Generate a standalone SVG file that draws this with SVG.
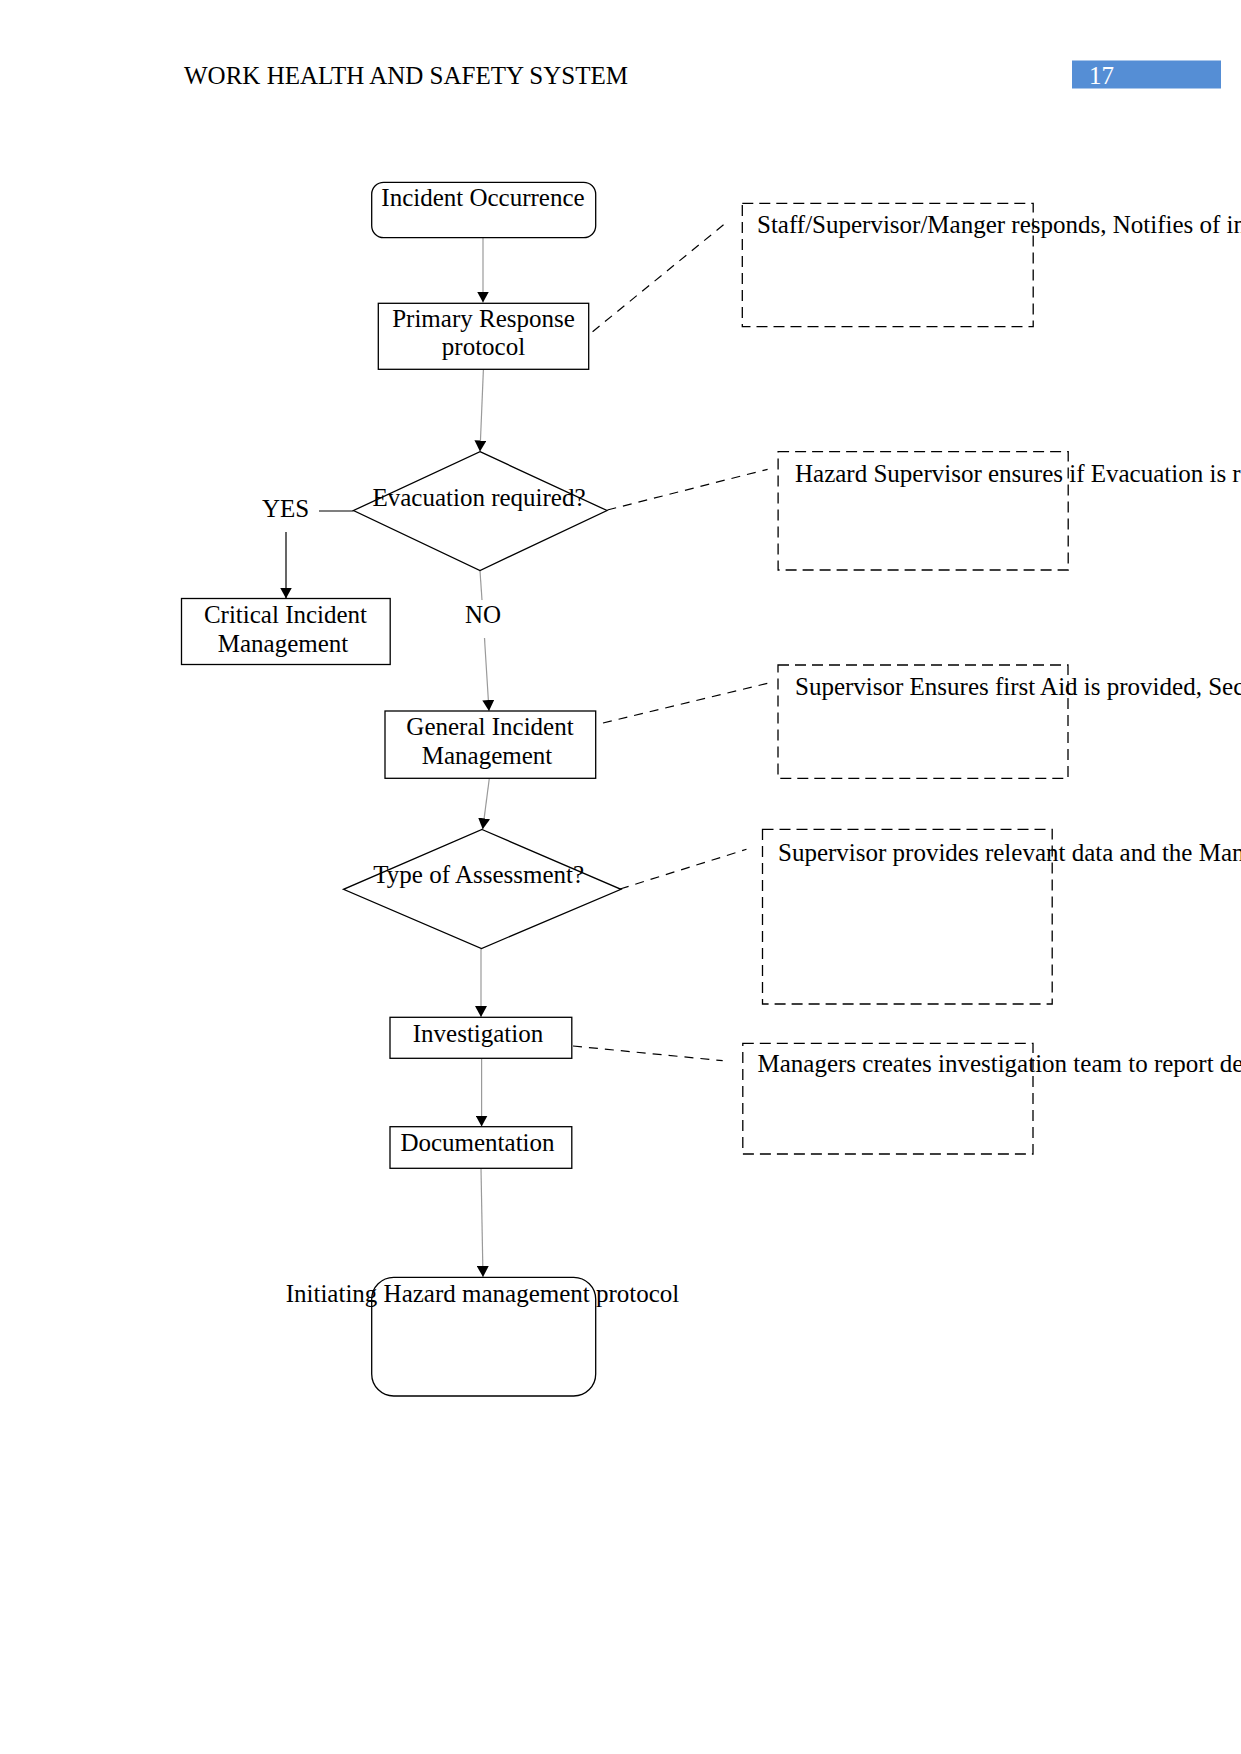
<svg xmlns="http://www.w3.org/2000/svg" width="1241" height="1754" viewBox="0 0 1241 1754">
<style>
text{font-family:"Liberation Serif","Times New Roman",serif;font-size:25px;fill:#000}
.c{text-anchor:middle}
.box{fill:#fff;stroke:#000;stroke-width:1.3}
.dbox{fill:none;stroke:#000;stroke-width:1.3;stroke-dasharray:11 6}
.flow{stroke:#9a9a9a;stroke-width:1.2;fill:none}
.solid{stroke:#000;stroke-width:1.2;fill:none}
.dash{stroke:#000;stroke-width:1.2;fill:none;stroke-dasharray:9 7}
</style>
<defs>
<marker id="ah" markerUnits="userSpaceOnUse" markerWidth="12" markerHeight="12" refX="11" refY="6" orient="auto" viewBox="0 0 12 12">
<path d="M0,0 L11,6 L0,12 z" fill="#000"/>
</marker>
</defs>
<rect width="1241" height="1754" fill="#fff"/>
<g id="header">
<text x="184" y="84">WORK HEALTH AND SAFETY SYSTEM</text>
<rect x="1072" y="60.5" width="149" height="28" fill="#558ed5"/>
<text x="1089" y="84" style="fill:#fff">17</text>
</g>
<g id="connectors">
<line class="flow" x1="483" y1="238" x2="483" y2="302.5" marker-end="url(#ah)"/>
<line class="flow" x1="483.4" y1="369.5" x2="480" y2="451.5" marker-end="url(#ah)"/>
<line class="flow" x1="480" y1="571" x2="482" y2="600"/>
<line class="flow" x1="484.5" y1="638" x2="489" y2="711" marker-end="url(#ah)"/>
<line class="flow" x1="489.3" y1="778.5" x2="482.7" y2="829.3" marker-end="url(#ah)"/>
<line class="flow" x1="481" y1="949" x2="481" y2="1017" marker-end="url(#ah)"/>
<line class="flow" x1="481.6" y1="1058.5" x2="481.6" y2="1126.5" marker-end="url(#ah)"/>
<line class="flow" x1="481" y1="1168.5" x2="483" y2="1277" marker-end="url(#ah)"/>
<line class="solid" x1="319" y1="511" x2="353.5" y2="511"/>
<line class="solid" x1="286" y1="532" x2="286" y2="598.5" marker-end="url(#ah)"/>
<line class="dash" x1="592.6" y1="331.7" x2="725.4" y2="223.3"/>
<line class="dash" x1="607.4" y1="510" x2="767.6" y2="469.3"/>
<line class="dash" x1="603" y1="723" x2="767.6" y2="683.3"/>
<line class="dash" x1="620" y1="889" x2="746.5" y2="849.3"/>
<line class="dash" x1="573" y1="1046" x2="722.7" y2="1060.7"/>
</g>
<g id="incident-occurrence">
<rect class="box" x="371.7" y="182.3" width="224" height="55.4" rx="12"/>
<text class="c" x="483" y="206">Incident Occurrence</text>
</g>
<g id="primary-response">
<rect class="box" x="378.3" y="303.3" width="210.4" height="66"/>
<text class="c" x="483.5" y="327">Primary Response</text>
<text class="c" x="483.5" y="354.5">protocol</text>
</g>
<g id="evacuation-required">
<polygon class="box" points="480,451.7 607,510.5 480,570.5 353.5,510.5"/>
<text class="c" x="479" y="506">Evacuation required?</text>
</g>
<g id="yes-label">
<text x="262" y="517">YES</text>
</g>
<g id="no-label">
<text x="465" y="623">NO</text>
</g>
<g id="critical-incident">
<rect class="box" x="181.5" y="598.5" width="208.7" height="66"/>
<text class="c" x="285.5" y="623">Critical Incident</text>
<text class="c" x="283" y="652">Management</text>
</g>
<g id="general-incident">
<rect class="box" x="385" y="711" width="210.7" height="67.3"/>
<text class="c" x="490" y="735">General Incident</text>
<text class="c" x="487" y="763.5">Management</text>
</g>
<g id="type-of-assessment">
<polygon class="box" points="482,829.5 621,889.3 481.5,948.5 343.5,889.3"/>
<text class="c" x="478.7" y="883">Type of Assessment?</text>
</g>
<g id="investigation">
<rect class="box" x="390" y="1017.3" width="181.8" height="41"/>
<text class="c" x="478" y="1042">Investigation</text>
</g>
<g id="documentation">
<rect class="box" x="390" y="1126.7" width="181.8" height="41.6"/>
<text class="c" x="477.5" y="1151">Documentation</text>
</g>
<g id="hazard-management">
<rect class="box" x="371.7" y="1277.3" width="224" height="118.7" rx="22"/>
<text class="c" x="482.5" y="1302">Initiating Hazard management protocol</text>
</g>
<g id="note-staff">
<text x="757" y="233">Staff/Supervisor/Manger responds, Notifies of in</text>
<rect class="dbox" x="742.3" y="203.3" width="290.9" height="123.4"/>
</g>
<g id="note-hazard">
<text x="795" y="482">Hazard Supervisor ensures if Evacuation is re</text>
<rect class="dbox" x="778.1" y="451.7" width="290.1" height="118.3"/>
</g>
<g id="note-first-aid">
<text x="795" y="695">Supervisor Ensures first Aid is provided, Sec</text>
<rect class="dbox" x="778" y="665" width="290" height="113.3"/>
</g>
<g id="note-data">
<text x="778" y="861">Supervisor provides relevant data and the Man</text>
<rect class="dbox" x="762.5" y="829.3" width="289.7" height="174.7"/>
</g>
<g id="note-investigation">
<text x="757.5" y="1072">Managers creates investigation team to report de</text>
<rect class="dbox" x="742.8" y="1043.3" width="290.2" height="110.7"/>
</g>
</svg>
